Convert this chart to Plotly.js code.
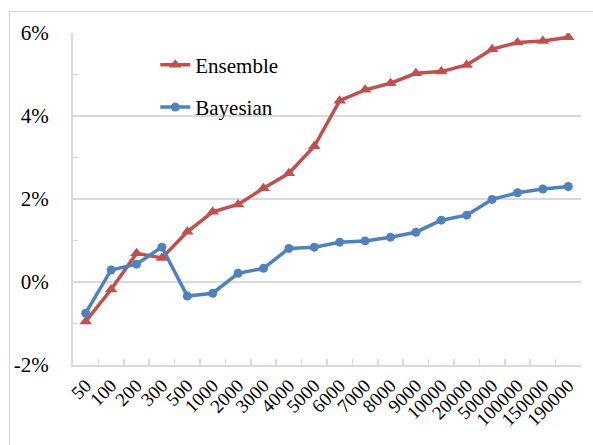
<!DOCTYPE html>
<html>
<head>
<meta charset="utf-8">
<script src="https://cdn.plot.ly/plotly-3.0.1.min.js"></script>
<style>
  html, body { margin: 0; padding: 0; background: #fff; }
  #chart { width: 593px; height: 445px; }
  #frame { position: absolute; left: 9px; top: 11px; width: 620px; height: 470px;
           border: 1.5px solid #d9d9d9; pointer-events: none; }
</style>
</head>
<body>
<div id="chart"></div>
<div id="frame"></div>
<script>
const categories = ['50','100','200','300','500','1000','2000','3000','4000','5000',
  '6000','7000','8000','9000','10000','20000','50000','100000','150000','190000'];
const ensemble = [-0.95, -0.18, 0.69, 0.58, 1.21, 1.69, 1.87, 2.26, 2.62, 3.27,
  4.37, 4.63, 4.79, 5.03, 5.07, 5.23, 5.61, 5.77, 5.81, 5.90];
const bayesian = [-0.75, 0.29, 0.43, 0.84, -0.34, -0.27, 0.21, 0.33, 0.81, 0.84,
  0.96, 0.99, 1.08, 1.20, 1.49, 1.61, 1.99, 2.15, 2.24, 2.30];
const yTickVals = [-2, 0, 2, 4, 6];
const yTickText = ['-2%', '0%', '2%', '4%', '6%'];

const red = '#C0504D';
const blue = '#4F81BD';
const grid = '#d9d9d9';
const fontFam = 'Liberation Serif, DejaVu Serif, serif';

const traces = [
  { x: categories, y: ensemble, name: 'Ensemble', type: 'scatter', mode: 'lines+markers',
    legendgroup: 'a',
    line: { color: red, width: 3.5 },
    marker: { symbol: 'triangle-up', size: 11, color: red } },
  { x: categories, y: bayesian, name: 'Bayesian', type: 'scatter', mode: 'lines+markers',
    legendgroup: 'b',
    line: { color: blue, width: 3.5 },
    marker: { symbol: 'circle', size: 9, color: blue } }
];

const layout = {
  width: 593, height: 445,
  margin: { l: 73, r: 12, t: 33, b: 80 },
  paper_bgcolor: '#fff', plot_bgcolor: '#fff',
  font: { family: fontFam, color: '#000', size: 21 },
  showlegend: true,
  legend: {
    x: 0.162, y: 0.965, xanchor: 'left', yanchor: 'top',
    bgcolor: 'rgba(0,0,0,0)', borderwidth: 0,
    font: { family: fontFam, size: 21, color: '#000' },
    traceorder: 'grouped', tracegroupgap: 12
  },
  xaxis: {
    type: 'category',
    tickangle: -45,
    tickfont: { family: fontFam, size: 19, color: '#000' },
    showline: true, linecolor: grid, linewidth: 2,
    ticks: 'inside', tickson: 'boundaries', ticklen: 6, tickcolor: grid, tickwidth: 1.5,
    showgrid: false, zeroline: false,
    range: [-0.5, 19.5]
  },
  yaxis: {
    range: [-2, 6],
    tickmode: 'array', tickvals: yTickVals, ticktext: yTickText,
    tickfont: { family: fontFam, size: 21, color: '#000' },
    showline: true, linecolor: grid, linewidth: 2,
    showgrid: true, gridcolor: grid, gridwidth: 1.5,
    zeroline: false,
    ticks: 'inside', ticklen: 5, tickcolor: grid,
    minor: { dtick: 1, tick0: 1, ticks: 'inside', ticklen: 5, tickcolor: grid, showgrid: false },
    ticklabelstandoff: 18
  }
};

Plotly.newPlot('chart', traces, layout, { displayModeBar: false, staticPlot: true });
</script>
</body>
</html>
